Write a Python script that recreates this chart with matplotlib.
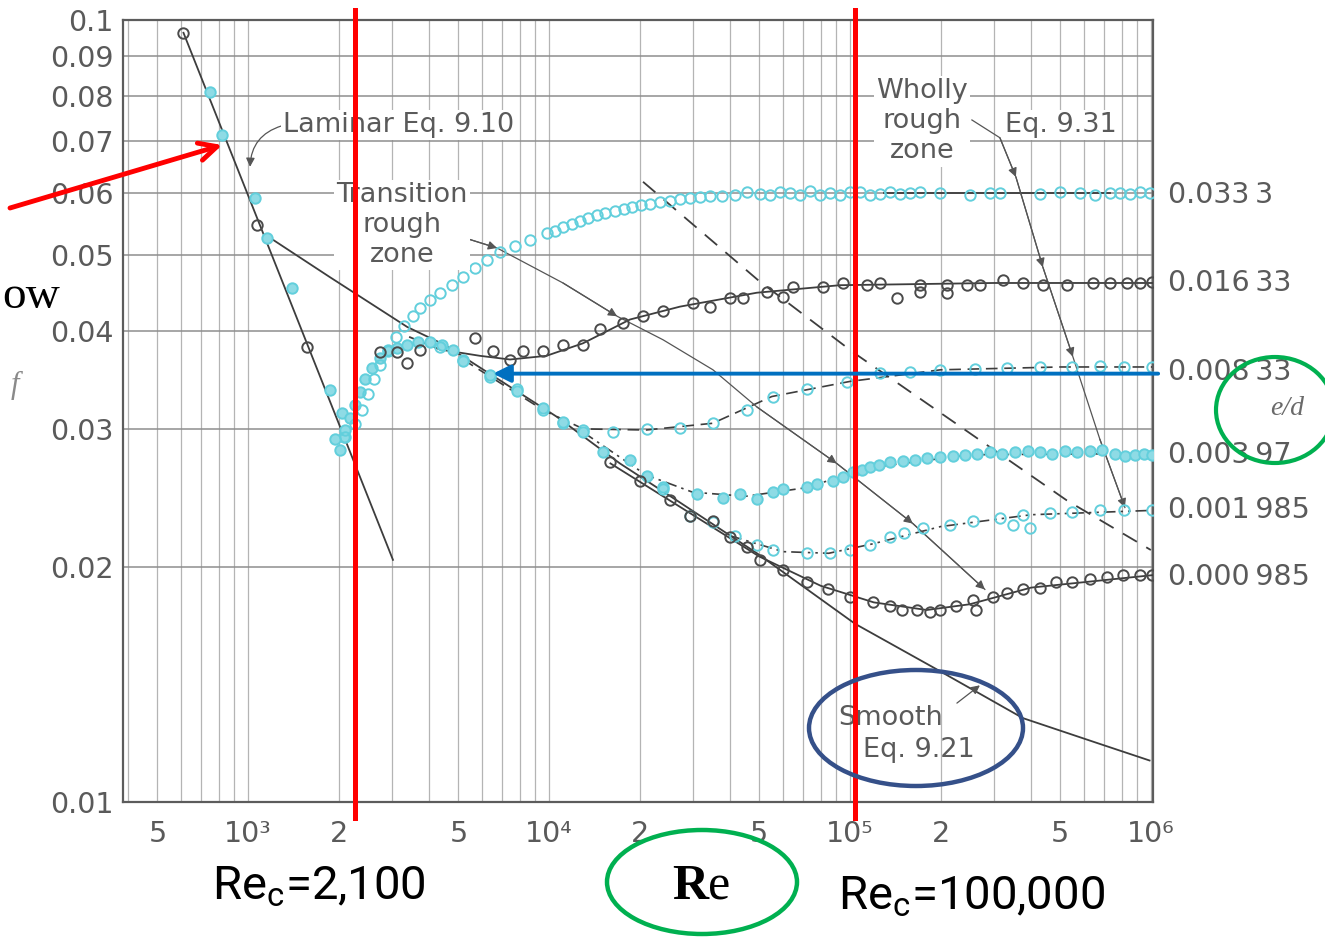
import matplotlib
matplotlib.use("Agg")
import matplotlib.pyplot as plt
from matplotlib.patches import Ellipse
from matplotlib.ticker import FixedLocator, FixedFormatter, NullFormatter
from matplotlib.transforms import blended_transform_factory

W, H = 1325, 938

# ── Datos (Re, f) ─────────────────────────────────────────────────────────────
laminar_re = [610, 3030]
laminar_f = [0.0963, 0.0204]
laminar_pts_re = [748, 820, 1055, 1156, 1400, 1873, 2053, 2085]
laminar_pts_f = [0.0809, 0.0713, 0.0592, 0.0526, 0.0454, 0.0336, 0.0314, 0.0293]
laminar_dark_re = [608, 1071, 1570]
laminar_dark_f = [0.0963, 0.0547, 0.0382]

smooth_re = [1170, 1870, 3380, 4510, 10600, 17200, 26600, 49100, 104000, 193000, 376000, 661600, 990000]
smooth_f = [0.0528, 0.0469, 0.0405, 0.0384, 0.0311, 0.0271, 0.0243, 0.0208, 0.0169, 0.0148, 0.0128,
            0.0119, 0.0113]

transition_re = [1945, 2021, 2100, 2183, 2270, 2356, 2450, 2580, 2745, 2920, 3120, 3370, 3670, 4020, 4420, 4800]
transition_f = [0.0291, 0.0282, 0.0299, 0.0310, 0.0322, 0.0334, 0.0347, 0.0359, 0.0370, 0.0377,
                0.0381, 0.0384, 0.0387, 0.0387, 0.0384, 0.0379]

# e/d = 0.0333
ed1_re = [2100, 2270, 2390, 2500, 2620, 2745, 2920, 3100, 3300, 3520,
          3730, 4020, 4340, 4760, 5180, 5680, 6230, 6870, 7700, 8650,
          9840, 10500, 11130, 11900, 12680, 13500, 14410, 15400, 16510, 17700,
          18870, 20200, 21650, 23300, 25240, 27200, 29400, 31700, 34270, 37500,
          41530, 45500, 50230, 54200, 58500, 63190, 68200, 73600, 79480, 85800,
          92600, 100000, 108000, 116500, 125800, 135800, 146600, 158300, 170900, 199100,
          250400, 291800, 315000, 427800, 500000, 580800, 650000, 730700, 790000, 851500,
          920000, 992400]
ed1_f = [0.0293, 0.0304, 0.0317, 0.0332, 0.0347, 0.0362, 0.0379, 0.0393, 0.0406, 0.0418,
         0.0428, 0.0439, 0.0448, 0.0458, 0.0469, 0.0482, 0.0493, 0.0505, 0.0514, 0.0523,
         0.0534, 0.0538, 0.0544, 0.0549, 0.0553, 0.0558, 0.0563, 0.0567, 0.0570, 0.0574,
         0.0577, 0.0580, 0.0582, 0.0585, 0.0587, 0.0590, 0.0592, 0.0594, 0.0596, 0.0596,
         0.0597, 0.0603, 0.0599, 0.0597, 0.0602, 0.0601, 0.0598, 0.0604, 0.0598, 0.0601,
         0.0597, 0.0602, 0.0603, 0.0598, 0.0599, 0.0602, 0.0599, 0.0601, 0.0603, 0.0600,
         0.0598, 0.0601, 0.0601, 0.0599, 0.0602, 0.0600, 0.0598, 0.0601, 0.0601, 0.0599,
         0.0602, 0.0600]
ed1_line_re = [130000, 730000]
ed1_line_f = [0.0600, 0.0600]

# e/d = 0.01633
ed2_re = [2745, 3120, 3370, 3730, 5680, 6510, 7420, 8220, 9580, 11130, 12970, 14770, 17620, 20540,
          23930, 30140, 34270, 39930, 44130, 52940, 59940, 64620, 81370, 95050, 113900, 125800,
          143100, 170900, 170900, 209900, 209900, 244700, 270300, 322300, 375600, 437700, 526000,
          641800, 730700, 832300, 919200, 1010000]
ed2_f = [0.0376, 0.0376, 0.0364, 0.0379, 0.0392, 0.0377, 0.0368, 0.0377, 0.0377, 0.0384, 0.0384,
         0.0402, 0.0410, 0.0418, 0.0424, 0.0435, 0.0429, 0.0441, 0.0441, 0.0449, 0.0443, 0.0456,
         0.0456, 0.0461, 0.0458, 0.0461, 0.0441, 0.0458, 0.0449, 0.0458, 0.0448, 0.0458, 0.0458,
         0.0465, 0.0461, 0.0458, 0.0458, 0.0461, 0.0461, 0.0461, 0.0461, 0.0463]
ed2_line_re = [3450, 4340, 5900, 7420, 9800, 12970, 18580, 27240, 49090, 92600, 300000, 1010000]
ed2_line_f = [0.0393, 0.0379, 0.0372, 0.0368, 0.0372, 0.0386, 0.0414, 0.0430, 0.0448, 0.0458, 0.0461, 0.0461]

# e/d = 0.00833
ed3_re = [4340, 5180, 6370, 7830, 9580, 11130, 12970, 16320, 21150, 27240, 35060, 45490, 55520,
          71960, 97670, 125800, 158300, 199100, 260300, 332400, 427800, 547000, 676900, 815000, 1010000]
ed3_f = [0.0382, 0.0368, 0.0350, 0.0337, 0.0317, 0.0305, 0.0299, 0.0297, 0.0300, 0.0301, 0.0305,
         0.0317, 0.0330, 0.0337, 0.0344, 0.0354, 0.0355, 0.0357, 0.0358, 0.0359, 0.0360, 0.0360,
         0.0361, 0.0360, 0.0360]
ed3_line_re = [5180, 9580, 13000, 21000, 35000, 55000, 100000, 200000, 500000, 1010000]
ed3_line_f = [0.0368, 0.0317, 0.0300, 0.0299, 0.0305, 0.0330, 0.0345, 0.0357, 0.0360, 0.0360]

# e/d = 0.00397
ed4_re = [5180, 6370, 7830, 9580, 11130, 12970, 15120, 18580, 21150, 23930,
          31020, 37800, 43110, 49080, 55520, 60000, 71960, 78000, 87890, 95000,
          102400, 110000, 116500, 125000, 135800, 150000, 164400, 180000, 199100, 220000,
          241000, 265000, 291800, 320000, 353400, 390000, 427800, 470000, 518000, 570000,
          627000, 690000, 759000, 820000, 885000, 950000, 1010000]
ed4_f = [0.0366, 0.0352, 0.0335, 0.0319, 0.0306, 0.0297, 0.0280, 0.0274, 0.0261, 0.0253,
         0.0248, 0.0245, 0.0248, 0.0244, 0.0249, 0.0251, 0.0253, 0.0255, 0.0257, 0.0260,
         0.0264, 0.0266, 0.0268, 0.0270, 0.0272, 0.0273, 0.0274, 0.0275, 0.0276, 0.0277,
         0.0278, 0.0279, 0.0280, 0.0279, 0.0280, 0.0281, 0.0280, 0.0279, 0.0281, 0.0280,
         0.0281, 0.0282, 0.0279, 0.0277, 0.0278, 0.0279, 0.0278]
ed4_line_re = [13000, 21000, 30000, 45000, 70000, 120000, 250000, 1010000]
ed4_line_f = [0.0297, 0.0262, 0.0249, 0.0246, 0.0252, 0.0268, 0.0278, 0.0279]

# e/d = 0.001985
ed5_re = [23930, 29400, 35060, 41530, 49080, 55520, 71960, 85820, 100000, 116500, 135800, 151700,
          174900, 214900, 256500, 315000, 347900, 375600, 396300, 461800, 547000, 676900, 815000, 1010000]
ed5_f = [0.0251, 0.0232, 0.0228, 0.0219, 0.0213, 0.0210, 0.0208, 0.0208, 0.0210, 0.0213, 0.0218,
         0.0221, 0.0224, 0.0226, 0.0229, 0.0231, 0.0226, 0.0233, 0.0224, 0.0234, 0.0235, 0.0236,
         0.0236, 0.0236]
ed5_line_re = [40000, 60000, 85000, 120000, 200000, 400000, 1010000]
ed5_line_f = [0.0219, 0.0209, 0.0208, 0.0214, 0.0225, 0.0233, 0.0236]

# e/d = 0.000985
ed6_re = [15950, 20060, 25240, 29400, 35060, 39930, 45490, 50230, 59940, 71960, 84530, 100000,
          119200, 135800, 149100, 166800, 184500, 199100, 225400, 262400, 256500, 297700, 332400,
          375600, 427800, 484800, 547000, 627000, 714000, 807000, 919200, 1010000]
ed6_f = [0.0272, 0.0257, 0.0243, 0.0232, 0.0229, 0.0218, 0.0212, 0.0204, 0.0198, 0.0191, 0.0187,
         0.0183, 0.0180, 0.0178, 0.0176, 0.0176, 0.0175, 0.0176, 0.0178, 0.0176, 0.0181, 0.0183,
         0.0185, 0.0187, 0.0188, 0.0191, 0.0191, 0.0193, 0.0194, 0.0195, 0.0195, 0.0195]
ed6_line_re = [16000, 30000, 50000, 80000, 120000, 180000, 250000, 400000, 1010000]
ed6_line_f = [0.0271, 0.0233, 0.0206, 0.0189, 0.0180, 0.0176, 0.0179, 0.0188, 0.0195]

ed_labels = ["0.033\u20093", "0.016\u200933", "0.008\u200933", "0.003\u200997", "0.001\u2009985", "0.000\u2009985"]
ed_levels = [0.0597, 0.0461, 0.0355, 0.0278, 0.0236, 0.0194]

# Frontera zona totalmente rugosa (discontinua)
rough_dash_re = [20530, 49480, 102400, 526000, 1000000]
rough_dash_f = [0.0621, 0.0465, 0.0376, 0.0243, 0.0210]

# Líneas guía con flechas
trans_re = [4520, 6720, 11130, 16840, 23930, 35060, 49080, 90350, 161900, 280800]
trans_f = [0.0536, 0.0511, 0.0461, 0.0418, 0.0390, 0.0357, 0.0320, 0.0271, 0.0227, 0.0187]
trans_arrows = [1, 3, 7, 8, 9]
wholly_re = [254300, 315000, 356000, 437700, 550700, 676900, 819700]
wholly_f = [0.0745, 0.0707, 0.0630, 0.0483, 0.0371, 0.0291, 0.0238]
wholly_arrows = [2, 3, 4, 6]

# Marcas añadidas encima (líneas rojas, flecha azul)
red_lines_re = [2270, 103900]
blue_arrow_re, blue_arrow_f = 6520, 0.0353
red_arrow_re, red_arrow_f = 820, 0.0692

x_major = [500, 1e3, 2e3, 5e3, 1e4, 2e4, 5e4, 1e5, 2e5, 5e5, 1e6]
x_labels = ["5", "10³", "2", "5", "10⁴", "2", "5", "10⁵", "2", "5", "10⁶"]
y_ticks = [0.01, 0.02, 0.03, 0.04, 0.05, 0.06, 0.07, 0.08, 0.09, 0.1]
y_labels = ["0.01", "0.02", "0.03", "0.04", "0.05", "0.06", "0.07", "0.08", "0.09", "0.1"]

# Paleta
C_CYAN = "#62cfdc"
C_CYAN_FILL = "#8edbe5"
C_DARK = "#4a4a4a"
C_LINE = "#3d3d3d"
C_TEXT = "#5a5a5a"

plt.rcParams.update({
    "font.family": "DejaVu Sans",
    "mathtext.fontset": "custom",
    "mathtext.rm": "Roboto",
    "mathtext.it": "Roboto:italic",
    "mathtext.bf": "Roboto:bold",
})

fig = plt.figure(figsize=(W / 100, H / 100), dpi=100)
ax = fig.add_axes([123 / W, (H - 802) / H, 1030 / W, 782 / H])
ax.set_xscale("log")
ax.set_yscale("log")
ax.set_xlim(384, 1.0165e6)
ax.set_ylim(0.01, 0.1)

# ejes y rejilla
ax.xaxis.set_major_locator(FixedLocator(x_major))
ax.xaxis.set_major_formatter(FixedFormatter(x_labels))
x_minor = [m * 10 ** e for e in range(2, 6) for m in range(2, 10) if m * 10 ** e >= 400]
ax.xaxis.set_minor_locator(FixedLocator(x_minor))
ax.xaxis.set_minor_formatter(NullFormatter())
ax.yaxis.set_major_locator(FixedLocator(y_ticks))
ax.yaxis.set_major_formatter(FixedFormatter(y_labels))
ax.yaxis.set_minor_locator(FixedLocator([]))
ax.tick_params(axis="both", which="both", length=0, labelsize=20.5, labelcolor=C_TEXT)
ax.tick_params(axis="x", pad=13)
ax.tick_params(axis="y", pad=7)
ax.grid(True, axis="x", which="both", color="#b4b4b4", lw=0.9)
ax.grid(True, axis="y", which="major", color="#8e8e8e", lw=1.1)
ax.set_axisbelow(True)
for s in ax.spines.values():
    s.set_color("#5c5c5c")
    s.set_linewidth(1.6)

# curvas teóricas
ax.plot(laminar_re, laminar_f, color=C_LINE, lw=1.3, zorder=3)
ax.plot(smooth_re, smooth_f, color=C_LINE, lw=1.3, zorder=3)
ax.plot(rough_dash_re, rough_dash_f, color=C_LINE, lw=1.3, ls=(0, (9, 6)), zorder=3)

# ajustes de cada rugosidad
ax.plot(ed1_line_re, ed1_line_f, color=C_LINE, lw=1.3, zorder=3)
ax.plot(ed2_line_re, ed2_line_f, color=C_LINE, lw=1.3, zorder=3)
ax.plot(ed3_line_re, ed3_line_f, color=C_LINE, lw=1.2, ls=(0, (7, 4)), zorder=3)
ax.plot(ed4_line_re, ed4_line_f, color=C_LINE, lw=1.2, ls=(0, (7, 3, 1.5, 3)), zorder=3)
ax.plot(ed5_line_re, ed5_line_f, color=C_LINE, lw=1.2, ls=(0, (7, 3, 1.5, 3, 1.5, 3)), zorder=3)
ax.plot(ed6_line_re, ed6_line_f, color=C_LINE, lw=1.3, zorder=3)

# puntos experimentales
mk = dict(ls="none", marker="o", ms=7.5, mew=1.4, zorder=4)
ax.plot(laminar_pts_re, laminar_pts_f, mfc=C_CYAN_FILL, mec=C_CYAN, **mk)
ax.plot(laminar_dark_re, laminar_dark_f, mfc="none", mec=C_DARK, **mk)
ax.plot(transition_re, transition_f, mfc=C_CYAN_FILL, mec=C_CYAN, **mk)
ax.plot(ed1_re, ed1_f, mfc="none", mec=C_CYAN, **mk)
ax.plot(ed2_re, ed2_f, mfc="none", mec=C_DARK, **mk)
ax.plot(ed3_re, ed3_f, mfc="none", mec=C_CYAN, **mk)
ax.plot(ed4_re, ed4_f, mfc=C_CYAN_FILL, mec=C_CYAN, **mk)
ax.plot(ed5_re, ed5_f, mfc="none", mec=C_CYAN, **mk)
ax.plot(ed6_re, ed6_f, mfc="none", mec=C_DARK, **mk)

# etiquetas e/d a la derecha
tr_right = blended_transform_factory(ax.transAxes, ax.transData)
for lab, lev in zip(ed_labels, ed_levels):
    ax.text(1.0146, lev, lab, transform=tr_right, ha="left", va="center",
            fontsize=20.5, color=C_TEXT, clip_on=False)

# líneas guía con flechas
arrow_kw = dict(arrowstyle="-|>", color="#555555", lw=0.9, mutation_scale=13, shrinkA=0, shrinkB=0)
ax.plot(trans_re, trans_f, color="#555555", lw=0.9, zorder=3)
for i in trans_arrows:
    ax.annotate("", xy=(trans_re[i], trans_f[i]), xytext=(trans_re[i - 1], trans_f[i - 1]),
                arrowprops=arrow_kw, zorder=3)
ax.plot(wholly_re, wholly_f, color="#555555", lw=0.9, zorder=3)
for i in wholly_arrows:
    ax.annotate("", xy=(wholly_re[i], wholly_f[i]), xytext=(wholly_re[i - 1], wholly_f[i - 1]),
                arrowprops=arrow_kw, zorder=3)
ax.annotate("", xy=(1015, 0.0649), xytext=(1290, 0.0732),
            arrowprops=dict(arrow_kw, connectionstyle="arc3,rad=0.35"))
ax.annotate("", xy=(270300, 0.0141), xytext=(226700, 0.01338), arrowprops=arrow_kw)

# textos de la figura original
box = dict(fc="white", ec="none", pad=1.5)
txt = dict(fontsize=19.5, color=C_TEXT, zorder=5)
ax.text(1307, 0.0734, "Laminar Eq. 9.10", ha="left", va="center", bbox=box, **txt)
ax.text(3248, 0.0547, "Transition\nrough\nzone", ha="center", va="center",
        linespacing=1.2, bbox=box, **txt)
ax.text(173500, 0.0742, "Wholly\nrough\nzone", ha="center", va="center",
        linespacing=1.2, bbox=box, **txt)
ax.text(327300, 0.0734, "Eq. 9.31", ha="left", va="center", bbox=box, **txt)
ax.text(91200, 0.0128, "Smooth", ha="left", va="center", **txt)
ax.text(110500, 0.01165, "Eq. 9.21", ha="left", va="center", **txt)

# ── Marcas añadidas: líneas rojas, flechas, elipses ──────────────────────────
tr_vert = blended_transform_factory(ax.transData, ax.transAxes)
for x in red_lines_re:
    ax.plot([x, x], [-0.0205, 1.0128], transform=tr_vert, color="#ff0000", lw=3.6,
            clip_on=False, zorder=10)

ax.annotate("", xy=(red_arrow_re, red_arrow_f), xytext=(10, H - 208), textcoords="figure pixels",
            arrowprops=dict(arrowstyle="->", color="#ff0000", lw=3.5, mutation_scale=32,
                            shrinkA=0, shrinkB=0), zorder=10)
ax.annotate("", xy=(blue_arrow_re, blue_arrow_f), xytext=(1.005, blue_arrow_f),
            textcoords=("axes fraction", "data"),
            arrowprops=dict(arrowstyle="-|>", color="#0070c0", lw=2.8, mutation_scale=26,
                            shrinkA=0, shrinkB=0), zorder=10)

fig.add_artist(Ellipse((1275 / W, 1 - 410 / H), 118 / W, 106 / H, transform=fig.transFigure,
                       fill=False, ec="#00b050", lw=3))
fig.add_artist(Ellipse((702 / W, 1 - 882 / H), 190 / W, 104 / H, transform=fig.transFigure,
                       fill=False, ec="#00b050", lw=3.2))
fig.add_artist(Ellipse((916 / W, 1 - 728 / H), 214 / W, 116 / H, transform=fig.transFigure,
                       fill=False, ec="#355089", lw=3.2))

fig.text(212 / W, 1 - 900 / H, r"Re$_{\mathrm{c}}$=2,100", family="Roboto", fontsize=34,
         color="black", ha="left", va="baseline")
fig.text(838 / W, 1 - 910 / H, r"Re$_{\mathrm{c}}$=100,000", family="Roboto", fontsize=34,
         color="black", ha="left", va="baseline")
fig.text(708 / W, 1 - 899 / H, "R", family="Liberation Serif", fontweight="bold", fontsize=36,
         color="black", ha="right", va="baseline")
fig.text(708 / W, 1 - 899 / H, "e", family="Liberation Serif", fontsize=36,
         color="black", ha="left", va="baseline")
fig.text(2 / W, 1 - 308 / H, "ow", family="Liberation Serif", fontsize=34,
         color="black", ha="left", va="baseline")
fig.text(15 / W, 1 - 385 / H, "f", family="Liberation Serif", style="italic", fontsize=22,
         color="#8a8a8a", ha="center", va="center")
fig.text(1287 / W, 1 - 408 / H, "e/d", family="Liberation Serif", style="italic", fontsize=20,
         color="#6a6a6a", ha="center", va="center")

fig.savefig("out.png", dpi=100, facecolor="white")
